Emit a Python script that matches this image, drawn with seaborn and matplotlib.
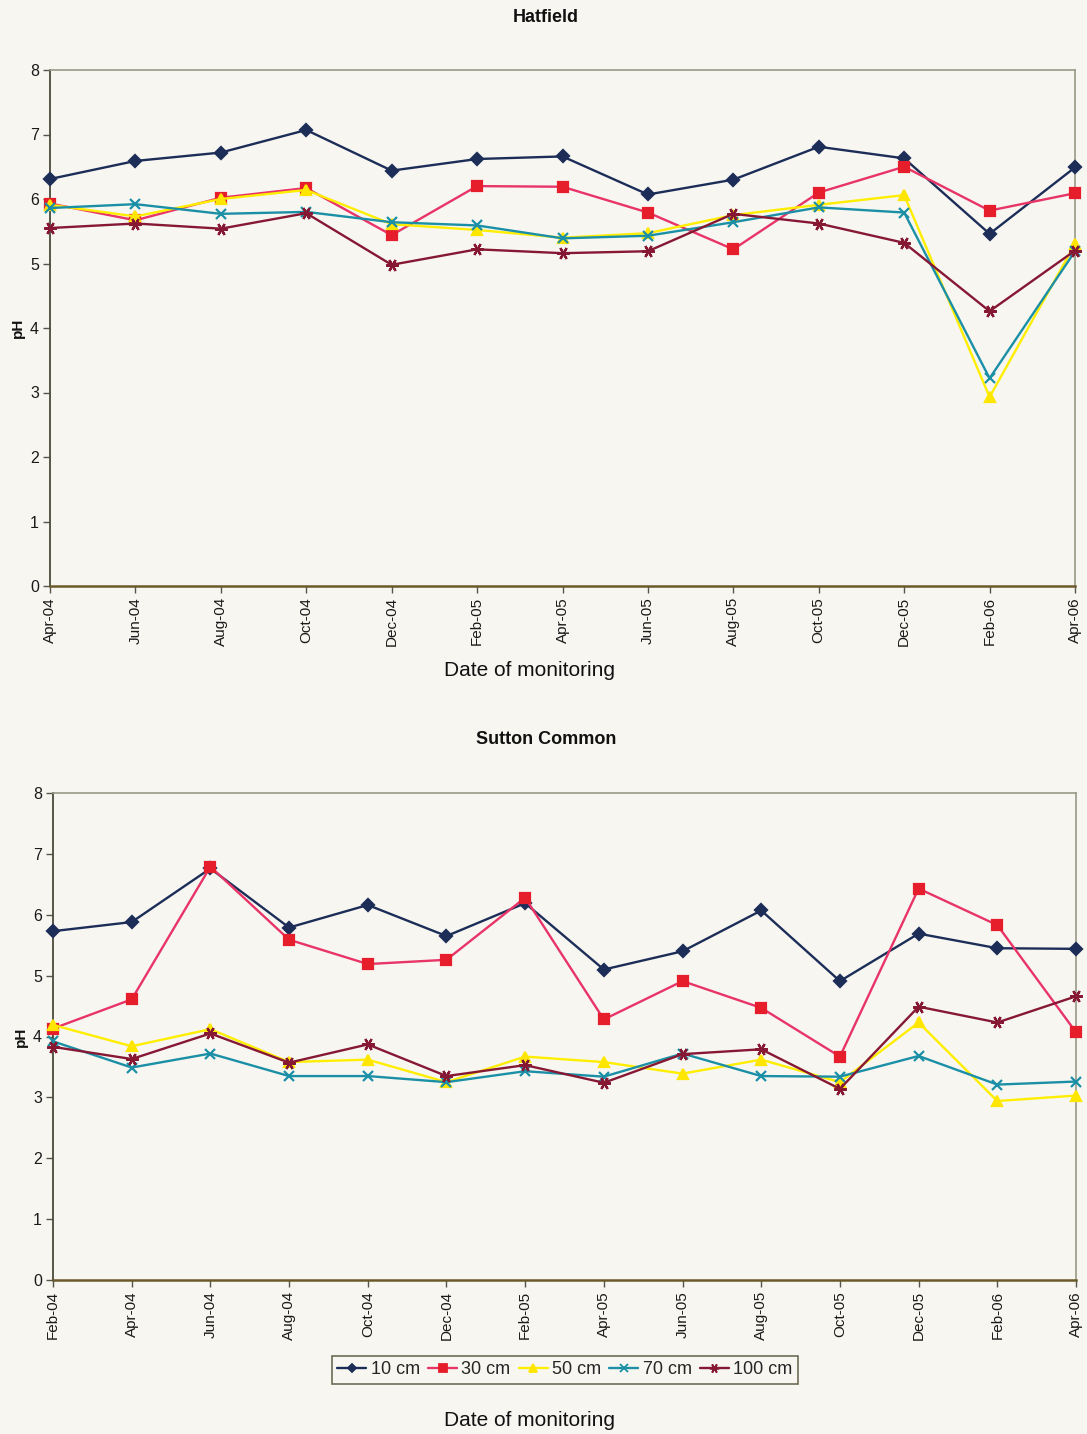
import numpy as np
import pandas as pd
import matplotlib
matplotlib.use("Agg")
import matplotlib.pyplot as plt
import seaborn as sns

sns.set_theme(style="white")
plt.rcParams["font.family"] = ["Liberation Sans", "DejaVu Sans"]

# ---- data -------------------------------------------------------------
depths = ["10 cm", "30 cm", "50 cm", "70 cm", "100 cm"]

hatfield_dates = ["Apr-04", "Jun-04", "Aug-04", "Oct-04", "Dec-04", "Feb-05", "Apr-05",
                  "Jun-05", "Aug-05", "Oct-05", "Dec-05", "Feb-06", "Apr-06"]
hatfield_10 = [6.31, 6.59, 6.72, 7.07, 6.44, 6.62, 6.66, 6.07, 6.30, 6.81, 6.63, 5.46, 6.49]
hatfield_30 = [5.93, 5.67, 6.02, 6.17, 5.44, 6.20, 6.19, 5.79, 5.22, 6.10, 6.50, 5.82, 6.09]
hatfield_50 = [5.91, 5.73, 6.00, 6.14, 5.61, 5.52, 5.40, 5.47, 5.75, 5.91, 6.06, 2.93, 5.30]
hatfield_70 = [5.86, 5.92, 5.77, 5.80, 5.64, 5.59, 5.39, 5.43, 5.64, 5.87, 5.79, 3.22, 5.19]
hatfield_100 = [5.55, 5.62, 5.54, 5.78, 4.98, 5.22, 5.16, 5.19, 5.77, 5.62, 5.32, 4.26, 5.20]

sutton_dates = ["Feb-04", "Apr-04", "Jun-04", "Aug-04", "Oct-04", "Dec-04", "Feb-05",
                "Apr-05", "Jun-05", "Aug-05", "Oct-05", "Dec-05", "Feb-06", "Apr-06"]
sutton_10 = [5.73, 5.88, 6.76, 5.79, 6.16, 5.65, 6.19, 5.10, 5.40, 6.07, 4.91, 5.69, 5.45, 5.44]
sutton_30 = [4.13, 4.61, 6.79, 5.59, 5.19, 5.26, 6.28, 4.28, 4.91, 4.47, 3.67, 6.43, 5.83, 4.07]
sutton_50 = [4.19, 3.84, 4.12, 3.58, 3.62, 3.25, 3.67, 3.58, 3.39, 3.62, 3.25, 4.23, 2.94, 3.03]
sutton_70 = [3.92, 3.49, 3.72, 3.35, 3.35, 3.25, 3.43, 3.34, 3.72, 3.35, 3.34, 3.68, 3.21, 3.26]
sutton_100 = [3.83, 3.63, 4.05, 3.57, 3.87, 3.35, 3.53, 3.24, 3.71, 3.79, 3.14, 4.49, 4.23, 4.66]

# ---- styles -----------------------------------------------------------
styles = {
    "10 cm": dict(color="#1c2d58", marker="D", mfc="#1c2d58", mec="#1c2d58", ms=6),
    "30 cm": dict(color="#e83466", marker="s", mfc="#e61e2c", mec="#e61e2c", ms=7),
    "50 cm": dict(color="#ffee00", marker="^", mfc="#ffe600", mec="#ffe600", ms=7),
    "70 cm": dict(color="#1b8fa6", marker="x", mfc="#1b8fa6", mec="#1b8fa6", ms=7),
    "100 cm": dict(color="#861834", marker=(6, 2, 90), mfc="#861834", mec="#861834", ms=9),
}

bg = "#f7f6f1"
fig = plt.figure(figsize=(10.87, 14.34), dpi=100, facecolor=bg)


def make_frame(dates, series):
    rows = []
    for depth, vals in zip(depths, series):
        for i, (d, v) in enumerate(zip(dates, vals)):
            rows.append({"idx": i, "date": d, "depth": depth, "pH": v})
    return pd.DataFrame(rows)


def draw_panel(rect, dates, series):
    ax = fig.add_axes(rect, facecolor=bg)
    df = make_frame(dates, series)
    for depth in depths:
        st = styles[depth]
        sub = df[df["depth"] == depth]
        sns.lineplot(data=sub, x="idx", y="pH", ax=ax, color=st["color"],
                     marker=st["marker"], markerfacecolor=st["mfc"],
                     markeredgecolor=st["mec"], markersize=st["ms"],
                     markeredgewidth=1.6, linewidth=1.7, clip_on=False,
                     label=depth, legend=False, zorder=3)
    ax.set_xlim(0, len(dates) - 1)
    ax.set_ylim(0, 8)
    ax.set_yticks(range(0, 9))
    ax.set_yticklabels([str(v) for v in range(0, 9)], fontsize=11.5)
    ax.set_xticks(range(len(dates)))
    ax.set_xticklabels(dates, rotation=90, fontsize=11)
    ax.tick_params(axis="both", which="major", direction="out", length=5,
                   width=1, color="#55554a", pad=3, bottom=True, left=True,
                   labelcolor="#1a1a1a")
    ax.set_xlabel("")
    ax.set_ylabel("")
    for side in ["top", "right"]:
        ax.spines[side].set_color("#9a9a88")
        ax.spines[side].set_linewidth(1.2)
    ax.spines["left"].set_color("#4a4a3c")
    ax.spines["left"].set_linewidth(1.3)
    ax.spines["bottom"].set_color("#6a5a2a")
    ax.spines["bottom"].set_linewidth(1.8)
    ax.grid(False)
    return ax


ax1 = draw_panel([50 / 1087, 1 - 586 / 1434, 1025 / 1087, 516 / 1434],
                 hatfield_dates,
                 [hatfield_10, hatfield_30, hatfield_50, hatfield_70, hatfield_100])
ax2 = draw_panel([53 / 1087, 1 - 1280 / 1434, 1023 / 1087, 487 / 1434],
                 sutton_dates,
                 [sutton_10, sutton_30, sutton_50, sutton_70, sutton_100])

# titles and axis labels
fig.text(546 / 1087, 1 - 17 / 1434, "Hatfield", ha="center", va="center",
         fontsize=13, fontweight="bold", color="#111111")
fig.text(546 / 1087, 1 - 739 / 1434, "Sutton Common", ha="center", va="center",
         fontsize=13, fontweight="bold", color="#111111")
fig.text(18 / 1087, 1 - 328 / 1434, "pH", rotation=90, ha="center", va="center",
         fontsize=11, fontweight="bold", color="#111111")
fig.text(21 / 1087, 1 - 1037 / 1434, "pH", rotation=90, ha="center", va="center",
         fontsize=11, fontweight="bold", color="#111111")
fig.text(530 / 1087, 1 - 670 / 1434, "Date of monitoring", ha="center", va="center",
         fontsize=15, color="#111111")
fig.text(530 / 1087, 1 - 1421 / 1434, "Date of monitoring", ha="center", va="center",
         fontsize=15, color="#111111")

# legend under the lower panel
handles = []
for depth in depths:
    st = styles[depth]
    h, = ax2.plot([], [], color=st["color"], marker=st["marker"],
                  markerfacecolor=st["mfc"], markeredgecolor=st["mec"],
                  markersize=st["ms"] * 0.75, markeredgewidth=1.3, linewidth=1.7)
    handles.append(h)
leg = fig.legend(handles, depths, loc="center", bbox_to_anchor=(565 / 1087, 1 - 1370 / 1434),
                 ncol=5, fontsize=13, frameon=True, fancybox=False,
                 handlelength=1.6, handletextpad=0.25, columnspacing=0.45,
                 borderpad=0.3, borderaxespad=0)
leg.get_frame().set_edgecolor("#4a4a30")
leg.get_frame().set_linewidth(1.2)
leg.get_frame().set_facecolor(bg)

fig.savefig("out.png", dpi=100, facecolor=bg)
